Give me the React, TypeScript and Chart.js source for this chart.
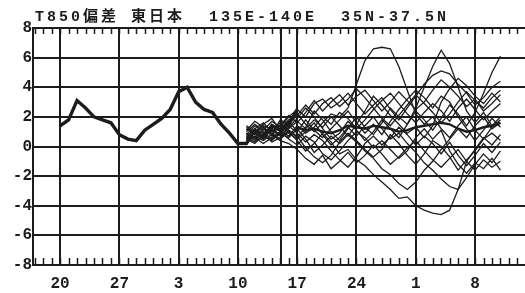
import React, { useEffect, useRef } from "react";
import { Chart, registerables } from "chart.js";

Chart.register(...registerables);

// ---- data ----
const TITLE = "T850偏差 東日本  135E-140E  35N-37.5N";

// x axis: day index (0 = the 17th of the first month)
const X_MIN = -0.2;
const X_MAX = 57.9;
const TICK_INDEX = [3, 10, 17, 24, 31, 38, 45, 52];
const TICK_LABELS = ["20", "27", "3", "10", "17", "24", "1", "8"];
const FORECAST_LINE = 29.1;

const Y_MIN = -8;
const Y_MAX = 8;
const Y_STEP = 2;

// observed (analysis) anomaly, from day index 3
const OBS_START = 3;
const OBS = [1.4, 1.8, 3.1, 2.6, 2.0, 1.8, 1.6, 0.8, 0.5, 0.4, 1.1, 1.5, 1.9, 2.5, 3.7, 4.0, 3.0, 2.5, 2.3, 1.5, 0.9, 0.2, 0.2, 1.1, 0.6, 1.4, 1.1, 1.5, 2.5];

// ensemble members, from day index 25
const ENS_START = 25;
const M1 = [0.6, 1.1, 0.9, 1.4, 1.2, 1.8, 2.2, 1.5, 1.0, 1.6, 2.2, 2.0, 2.6, 4.2, 5.8, 6.6, 6.7, 6.6, 5.4, 3.8, 2.2, 1.5, 2.0, 1.2, 0.6, 1.4, 2.0, 1.1, 0.5, 1.3, 1.8];
const M2 = [0.9, 0.5, 1.2, 0.7, 1.5, 1.1, 0.6, 1.3, 2.4, 1.8, 1.0, 0.4, 1.2, 2.0, 1.3, 0.8, 1.6, 2.6, 2.0, 1.5, 2.6, 4.0, 5.4, 6.5, 5.6, 4.0, 2.4, 1.6, 2.3, 1.4, 2.0];
const M3 = [1.2, 0.8, 0.6, 1.1, 0.7, 1.3, 1.9, 2.6, 2.0, 1.2, 0.5, 0.9, 1.7, 1.1, 0.4, 1.0, 1.8, 1.2, 0.6, 1.5, 2.4, 1.8, 1.1, 1.9, 2.8, 2.2, 1.4, 2.3, 3.6, 5.0, 6.1];
const M4 = [0.4, 0.9, 1.3, 0.9, 0.5, 1.0, 0.4, -0.3, 0.2, 0.9, 0.3, -0.5, -0.2, -0.9, -1.3, -1.9, -2.4, -2.9, -3.5, -3.4, -4.0, -4.3, -4.5, -4.6, -4.3, -2.9, -1.0, -0.2, 0.6, 0.1, 0.8];
const M5 = [0.8, 1.4, 1.0, 0.5, 0.9, 0.6, 1.2, 0.5, -0.4, 0.1, 0.7, 0.2, 0.8, 0.3, -0.3, -0.8, -1.5, -1.9, -2.5, -2.9, -2.4, -1.6, -1.0, -0.2, 0.5, 1.2, 0.6, 1.4, 2.0, 1.2, 1.6];
const M6 = [0.5, 0.2, 0.8, 1.2, 1.6, 0.9, 0.5, 1.0, 1.6, 0.8, 0.1, 0.6, 1.3, 0.7, 1.4, 2.0, 1.2, 0.5, 0.9, 0.2, -0.4, -1.1, -1.6, -2.2, -2.7, -2.9, -2.1, -1.2, -0.5, -1.1, -0.3];
const M7 = [1.0, 1.5, 1.1, 1.7, 1.3, 2.0, 2.5, 2.0, 2.9, 3.2, 2.6, 3.0, 3.6, 2.9, 2.2, 2.8, 3.3, 2.5, 1.8, 2.6, 3.4, 4.2, 4.8, 5.1, 4.9, 4.2, 3.6, 2.8, 3.3, 4.0, 4.4];
const M8 = [0.7, 1.2, 1.6, 1.0, 1.4, 2.1, 1.6, 2.3, 3.1, 2.4, 3.0, 3.5, 2.8, 3.4, 3.8, 3.1, 2.4, 3.0, 3.7, 3.1, 2.5, 3.0, 3.8, 4.5, 4.0, 3.4, 2.7, 3.2, 2.4, 2.9, 3.5];
const M9 = [0.3, 0.7, 0.4, 0.8, 0.4, 0.2, -0.2, -0.8, -1.2, -0.6, -1.5, -1.0, -0.4, -1.1, -0.6, 0.1, -0.5, -1.2, -0.7, -0.1, 0.4, -0.3, -0.9, -1.4, -0.8, -0.2, -1.0, -1.6, -0.9, -1.4, -1.0];
const M10 = [1.4, 1.0, 1.5, 1.9, 1.1, 0.7, 1.4, 0.9, 1.3, 2.0, 1.5, 2.3, 1.9, 1.2, 1.8, 2.5, 3.1, 3.6, 2.9, 2.2, 1.6, 2.3, 2.9, 2.4, 1.7, 2.6, 3.2, 2.5, 1.8, 2.4, 2.9];
const M11 = [0.6, 0.3, 0.7, 0.4, 0.9, 1.4, 0.9, 0.3, 0.8, 0.4, -0.3, -0.9, -1.4, -0.7, 0.2, 0.7, 0.1, 0.6, 1.3, 0.8, 0.1, 0.7, 0.2, -0.5, 0.3, -0.6, -1.3, -0.6, 0.2, -0.4, 0.3];
const M12 = [1.1, 1.7, 1.3, 0.8, 1.8, 1.5, 2.1, 2.8, 2.2, 2.9, 3.3, 2.7, 3.2, 3.9, 3.3, 2.6, 1.9, 1.4, 2.1, 2.8, 3.5, 2.9, 2.3, 1.6, 2.2, 3.0, 3.7, 3.1, 2.6, 3.3, 3.8];
const M13 = [0.9, 0.6, 0.2, 0.6, 1.0, 0.5, 0.1, 0.7, 0.3, -0.5, -0.9, -0.3, 0.4, 1.0, 0.6, -0.1, 0.4, -0.2, -0.8, -0.3, 0.6, 1.2, 0.5, 1.1, -0.3, -1.2, -1.8, -1.1, -1.5, -0.8, -1.6];
const M14 = [0.5, 1.0, 1.4, 1.2, 0.8, 1.2, 1.7, 1.2, 1.8, 1.3, 2.0, 1.4, 0.7, 1.5, 2.4, 3.4, 2.8, 2.1, 1.5, 0.9, 1.3, 0.6, 1.4, 3.0, 3.9, 4.6, 4.1, 3.4, 2.9, 3.6, 3.0];
const M15 = [1.3, 0.9, 0.5, 1.5, 1.1, 1.7, 1.0, 1.8, 1.1, 0.6, 1.2, 1.8, 2.4, 1.6, 0.9, 1.5, 0.8, 1.7, 2.5, 3.2, 3.8, 3.3, 2.6, 3.4, 3.0, 2.0, 1.2, 0.4, 1.1, 1.9, 1.3];
const M16 = [0.7, 0.4, 0.9, 0.3, 0.6, 1.1, 0.7, -0.1, -0.7, -1.1, -0.6, 0.3, 0.9, 0.4, -0.2, -0.7, -0.2, 0.8, 0.2, -0.6, -1.2, -0.5, 0.4, 0.0, -0.7, -1.6, -0.9, -0.3, 0.5, 0.9, 0.4];
const MEMBERS = [M1, M2, M3, M4, M5, M6, M7, M8, M9, M10, M11, M12, M13, M14, M15, M16];

// ensemble mean (in the spread), from day index 31
const MEAN_START = 31;
const MEAN = [1.3, 1.1, 1.2, 1.0, 0.9, 1.1, 1.4, 1.3, 1.2, 1.4, 1.3, 1.2, 1.0, 1.1, 1.3, 1.4, 1.5, 1.6, 1.5, 1.2, 1.0, 1.1, 1.3, 1.4, 1.6];

const INK = "#1c1c1c";
const MONO = '"Liberation Mono", "DejaVu Sans Mono", monospace';

const toPoints = (start: number, vals: number[]) => vals.map((v, i) => ({ x: start + i, y: v }));

const minorTicks = {
  id: "minorTicks",
  afterDatasetsDraw(chart: any) {
    const xs = chart.scales.x;
    const { top, bottom } = chart.chartArea;
    const ctx = chart.ctx;
    ctx.save();
    ctx.strokeStyle = INK;
    ctx.lineWidth = 1.5;
    ctx.beginPath();
    for (let d = Math.ceil(xs.min); d <= Math.floor(xs.max); d++) {
      const px = Math.round(xs.getPixelForValue(d)) + 0.5;
      ctx.moveTo(px, top);
      ctx.lineTo(px, top + 6);
      ctx.moveTo(px, bottom);
      ctx.lineTo(px, bottom - 7);
    }
    ctx.stroke();
    ctx.restore();
  },
};

const spacedTitle = {
  id: "spacedTitle",
  afterDraw(chart: any) {
    const ctx = chart.ctx;
    ctx.save();
    ctx.font = `bold 15px "Liberation Mono", "Noto Sans CJK JP", monospace`;
    (ctx as any).letterSpacing = "3px";
    ctx.fillStyle = INK;
    ctx.textBaseline = "alphabetic";
    ctx.textAlign = "left";
    ctx.fillText(TITLE, 35, 21);
    ctx.restore();
  },
};

export default function App() {
  const canvasRef = useRef<HTMLCanvasElement | null>(null);

  useEffect(() => {
    if (!canvasRef.current) return;
    const thin = MEMBERS.map((m) => ({
      data: toPoints(ENS_START, m),
      borderColor: INK,
      borderWidth: 1.3,
      pointRadius: 0,
      tension: 0,
      fill: false,
    }));
    const chart = new Chart(canvasRef.current, {
      type: "line",
      data: {
        datasets: [
          {
            data: toPoints(OBS_START, OBS),
            borderColor: INK,
            borderWidth: 3.4,
            pointRadius: 0,
            tension: 0,
            fill: false,
          },
          {
            data: toPoints(MEAN_START, MEAN),
            borderColor: INK,
            borderWidth: 2.4,
            pointRadius: 0,
            tension: 0,
            fill: false,
          },
          ...thin,
        ],
      },
      options: {
        animation: false,
        responsive: false,
        devicePixelRatio: 1,
        layout: { padding: { top: 28, left: 0, right: 0, bottom: 0 } },
        plugins: {
          legend: { display: false },
          tooltip: { enabled: false },
          title: { display: false },
        },
        scales: {
          x: {
            type: "linear",
            min: X_MIN,
            max: X_MAX,
            afterBuildTicks: (s: any) => {
              s.ticks = [...TICK_INDEX, FORECAST_LINE].map((v) => ({ value: v }));
            },
            afterFit: (s: any) => {
              s.height = 28;
            },
            ticks: {
              autoSkip: false,
              maxRotation: 0,
              padding: 9,
              color: INK,
              font: { family: MONO, size: 16, weight: "bold" },
              callback: (v: any) => {
                const i = TICK_INDEX.indexOf(Number(v));
                return i >= 0 ? TICK_LABELS[i] : "";
              },
            },
            grid: { color: INK, lineWidth: 2, drawTicks: false },
            border: { color: INK, width: 2 },
          },
          y: {
            min: Y_MIN,
            max: Y_MAX,
            afterFit: (s: any) => {
              s.width = 33;
            },
            ticks: {
              stepSize: Y_STEP,
              padding: 1,
              color: INK,
              font: { family: MONO, size: 16, weight: "bold" },
            },
            grid: { color: INK, lineWidth: 2, drawTicks: false },
            border: { color: INK, width: 2 },
          },
        },
      } as any,
      plugins: [minorTicks, spacedTitle],
    });
    return () => chart.destroy();
  }, []);

  return (
    <div style={{ position: "fixed", left: 0, top: 0, width: 525, height: 293, background: "#fff" }}>
      <canvas ref={canvasRef} width={525} height={293} style={{ display: "block" }} />
    </div>
  );
}
